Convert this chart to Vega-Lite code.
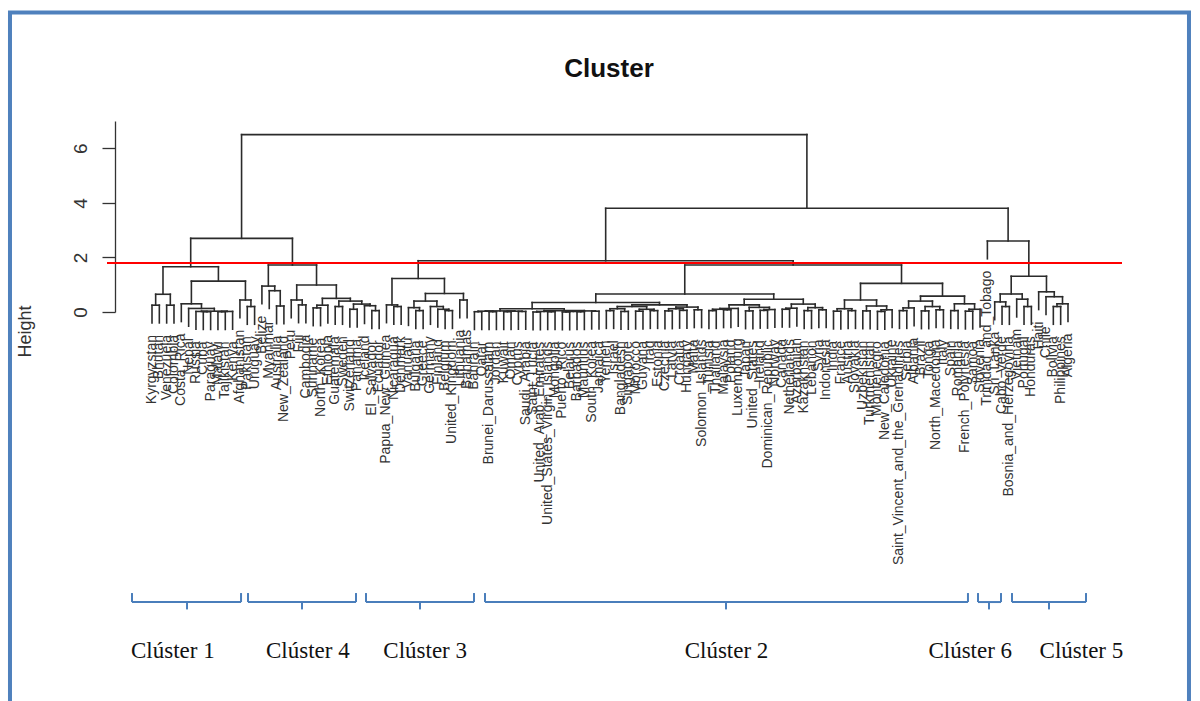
{
  "$schema": "https://vega.github.io/schema/vega-lite/v6.json",
  "width": 1015,
  "height": 191,
  "autosize": {"type": "none"},
  "padding": {"left": 107, "top": 121, "right": 78, "bottom": 389},
  "background": "white",
  "config": {"view": {"stroke": null}, "font": "Liberation Sans"},
  "datasets": {
    "frame": [{"x1": -18.38, "x2": 142.51, "y1": 10.98, "y2": -14.95}],
    "heading": [{"t": "Cluster", "x": 63.36, "y": 8.61}],
    "groups": [
      {"name": "Clúster 1", "l": -1.73, "r": 13.15, "c": 5.78, "lx": 3.84},
      {"name": "Clúster 4", "l": 14.1, "r": 28.84, "c": 21.47, "lx": 22.26},
      {"name": "Clúster 3", "l": 30.2, "r": 44.94, "c": 37.57, "lx": 38.28},
      {"name": "Clúster 2", "l": 46.44, "r": 112.35, "c": 79.33, "lx": 79.4},
      {"name": "Clúster 6", "l": 113.72, "r": 116.86, "c": 115.22, "lx": 112.66},
      {"name": "Clúster 5", "l": 118.36, "r": 128.46, "c": 123.41, "lx": 127.83}
    ],
    "merges": [
      {"a": 1, "b": 2, "h": 0.25, "p": -0.4, "q": -0.4},
      {"a": 3, "b": 4, "h": 0.25, "p": -0.4, "q": -0.4},
      {"a": 1.5, "b": 3.5, "h": 0.65, "p": 0.25, "q": 0.25},
      {"a": 8, "b": 9, "h": 0.01, "p": -0.64, "q": -0.64},
      {"a": 7, "b": 8.5, "h": 0.02, "p": -0.63, "q": 0.01},
      {"a": 10, "b": 11, "h": 0.01, "p": -0.64, "q": -0.64},
      {"a": 10.5, "b": 12, "h": 0.02, "p": 0.01, "q": -0.63},
      {"a": 7.75, "b": 11.25, "h": 0.03, "p": 0.02, "q": 0.02},
      {"a": 6, "b": 9.5, "h": 0.13, "p": -0.52, "q": 0.03},
      {"a": 5, "b": 7.75, "h": 0.3, "p": -0.35, "q": 0.13},
      {"a": 14, "b": 15, "h": 0.2, "p": -0.45, "q": -0.45},
      {"a": 13, "b": 14.5, "h": 0.44, "p": -0.21, "q": 0.2},
      {"a": 6.375, "b": 13.75, "h": 1.13, "p": 0.3, "q": 0.44},
      {"a": 2.5, "b": 10.0625, "h": 1.66, "p": 0.65, "q": 1.13},
      {"a": 18, "b": 19, "h": 0.22, "p": -0.43, "q": -0.43},
      {"a": 17, "b": 18.5, "h": 0.78, "p": 0.13, "q": 0.22},
      {"a": 16, "b": 17.75, "h": 0.95, "p": 0.3, "q": 0.78},
      {"a": 21, "b": 22, "h": 0.26, "p": -0.39, "q": -0.39},
      {"a": 20, "b": 21.5, "h": 0.44, "p": -0.21, "q": 0.26},
      {"a": 23, "b": 24, "h": 0.15, "p": -0.5, "q": -0.5},
      {"a": 23.5, "b": 25, "h": 0.25, "p": 0.15, "q": -0.4},
      {"a": 26, "b": 27, "h": 0.2, "p": -0.45, "q": -0.45},
      {"a": 28, "b": 29, "h": 0.1, "p": -0.55, "q": -0.55},
      {"a": 31, "b": 32, "h": 0.05, "p": -0.6, "q": -0.6},
      {"a": 30, "b": 31.5, "h": 0.23, "p": -0.42, "q": 0.05},
      {"a": 28.5, "b": 30.75, "h": 0.29, "p": 0.1, "q": 0.23},
      {"a": 26.5, "b": 29.625, "h": 0.4, "p": 0.2, "q": 0.29},
      {"a": 24.25, "b": 28.0625, "h": 0.5, "p": 0.25, "q": 0.4},
      {"a": 20.75, "b": 26.15625, "h": 0.99, "p": 0.44, "q": 0.5},
      {"a": 16.875, "b": 23.453125, "h": 1.72, "p": 0.95, "q": 0.99},
      {"a": 6.28125, "b": 20.1640625, "h": 2.7, "p": 1.66, "q": 1.72},
      {"a": 34, "b": 35, "h": 0.2, "p": -0.45, "q": -0.45},
      {"a": 33, "b": 34.5, "h": 0.26, "p": -0.39, "q": 0.2},
      {"a": 37, "b": 38, "h": 0.05, "p": -0.6, "q": -0.6},
      {"a": 36, "b": 37.5, "h": 0.16, "p": -0.49, "q": 0.05},
      {"a": 41, "b": 42, "h": 0.05, "p": -0.6, "q": -0.6},
      {"a": 40, "b": 41.5, "h": 0.1, "p": -0.55, "q": 0.05},
      {"a": 39, "b": 40.75, "h": 0.2, "p": -0.45, "q": 0.1},
      {"a": 36.75, "b": 39.875, "h": 0.4, "p": 0.16, "q": 0.2},
      {"a": 43, "b": 44, "h": 0.44, "p": -0.21, "q": -0.21},
      {"a": 38.3125, "b": 43.5, "h": 0.68, "p": 0.4, "q": 0.44},
      {"a": 33.75, "b": 40.90625, "h": 1.23, "p": 0.26, "q": 0.68},
      {"a": 45, "b": 46, "h": 0.01, "p": -0.64, "q": -0.64},
      {"a": 47, "b": 48, "h": 0.01, "p": -0.64, "q": -0.64},
      {"a": 45.5, "b": 47.5, "h": 0.03, "p": 0.01, "q": 0.01},
      {"a": 49, "b": 50, "h": 0.01, "p": -0.64, "q": -0.64},
      {"a": 51, "b": 52, "h": 0.02, "p": -0.63, "q": -0.63},
      {"a": 49.5, "b": 51.5, "h": 0.03, "p": 0.01, "q": 0.02},
      {"a": 46.5, "b": 50.5, "h": 0.04, "p": 0.03, "q": 0.03},
      {"a": 53, "b": 54, "h": 0, "p": -0.65, "q": -0.65},
      {"a": 55, "b": 56, "h": 0.01, "p": -0.64, "q": -0.64},
      {"a": 53.5, "b": 55.5, "h": 0.02, "p": 0, "q": 0.01},
      {"a": 57, "b": 58, "h": 0, "p": -0.65, "q": -0.65},
      {"a": 59, "b": 60, "h": 0.01, "p": -0.64, "q": -0.64},
      {"a": 57.5, "b": 59.5, "h": 0.02, "p": 0, "q": 0.01},
      {"a": 61, "b": 62, "h": 0.03, "p": -0.62, "q": -0.62},
      {"a": 58.5, "b": 61.5, "h": 0.04, "p": 0.02, "q": 0.03},
      {"a": 54.5, "b": 60, "h": 0.05, "p": 0.02, "q": 0.04},
      {"a": 48.5, "b": 57.25, "h": 0.12, "p": 0.04, "q": 0.05},
      {"a": 63, "b": 64, "h": 0.05, "p": -0.6, "q": -0.6},
      {"a": 65, "b": 66, "h": 0.02, "p": -0.63, "q": -0.63},
      {"a": 63.5, "b": 65.5, "h": 0.12, "p": 0.05, "q": 0.02},
      {"a": 67, "b": 68, "h": 0.03, "p": -0.62, "q": -0.62},
      {"a": 69, "b": 70, "h": 0.05, "p": -0.6, "q": -0.6},
      {"a": 67.5, "b": 69.5, "h": 0.1, "p": 0.03, "q": 0.05},
      {"a": 64.5, "b": 68.5, "h": 0.2, "p": 0.12, "q": 0.1},
      {"a": 71, "b": 72, "h": 0.04, "p": -0.61, "q": -0.61},
      {"a": 73, "b": 74, "h": 0.06, "p": -0.59, "q": -0.59},
      {"a": 71.5, "b": 73.5, "h": 0.12, "p": 0.04, "q": 0.06},
      {"a": 75, "b": 76, "h": 0.08, "p": -0.57, "q": -0.57},
      {"a": 72.5, "b": 75.5, "h": 0.18, "p": 0.12, "q": 0.08},
      {"a": 66.5, "b": 74, "h": 0.26, "p": 0.2, "q": 0.18},
      {"a": 52.875, "b": 70.25, "h": 0.35, "p": 0.12, "q": 0.26},
      {"a": 77, "b": 78, "h": 0.05, "p": -0.6, "q": -0.6},
      {"a": 79, "b": 80, "h": 0.08, "p": -0.57, "q": -0.57},
      {"a": 77.5, "b": 79.5, "h": 0.1, "p": 0.05, "q": 0.08},
      {"a": 78.5, "b": 81, "h": 0.13, "p": 0.1, "q": -0.52},
      {"a": 82, "b": 83, "h": 0.04, "p": -0.61, "q": -0.61},
      {"a": 84, "b": 85, "h": 0.06, "p": -0.59, "q": -0.59},
      {"a": 84.5, "b": 86, "h": 0.09, "p": 0.06, "q": -0.56},
      {"a": 82.5, "b": 85.25, "h": 0.17, "p": 0.04, "q": 0.09},
      {"a": 79.75, "b": 83.875, "h": 0.26, "p": 0.13, "q": 0.17},
      {"a": 87, "b": 88, "h": 0.1, "p": -0.55, "q": -0.55},
      {"a": 87.5, "b": 89, "h": 0.14, "p": 0.1, "q": -0.51},
      {"a": 90, "b": 91, "h": 0.05, "p": -0.6, "q": -0.6},
      {"a": 92, "b": 93, "h": 0.08, "p": -0.57, "q": -0.57},
      {"a": 90.5, "b": 92.5, "h": 0.16, "p": 0.05, "q": 0.08},
      {"a": 88.25, "b": 91.5, "h": 0.29, "p": 0.14, "q": 0.16},
      {"a": 81.8125, "b": 89.875, "h": 0.47, "p": 0.26, "q": 0.29},
      {"a": 61.5625, "b": 85.84375, "h": 0.66, "p": 0.35, "q": 0.47},
      {"a": 94, "b": 95, "h": 0.03, "p": -0.62, "q": -0.62},
      {"a": 96, "b": 97, "h": 0.05, "p": -0.6, "q": -0.6},
      {"a": 94.5, "b": 96.5, "h": 0.12, "p": 0.03, "q": 0.05},
      {"a": 98, "b": 99, "h": 0.04, "p": -0.61, "q": -0.61},
      {"a": 100, "b": 101, "h": 0.02, "p": -0.63, "q": -0.63},
      {"a": 100.5, "b": 102, "h": 0.08, "p": 0.02, "q": -0.57},
      {"a": 98.5, "b": 101.25, "h": 0.22, "p": 0.04, "q": 0.08},
      {"a": 95.5, "b": 99.875, "h": 0.44, "p": 0.12, "q": 0.22},
      {"a": 103, "b": 104, "h": 0.05, "p": -0.6, "q": -0.6},
      {"a": 103.5, "b": 105, "h": 0.15, "p": 0.05, "q": -0.5},
      {"a": 106, "b": 107, "h": 0.04, "p": -0.61, "q": -0.61},
      {"a": 108, "b": 109, "h": 0.08, "p": -0.57, "q": -0.57},
      {"a": 106.5, "b": 108.5, "h": 0.2, "p": 0.04, "q": 0.08},
      {"a": 104.25, "b": 107.5, "h": 0.4, "p": 0.15, "q": 0.2},
      {"a": 110, "b": 111, "h": 0.05, "p": -0.6, "q": -0.6},
      {"a": 112, "b": 113, "h": 0.03, "p": -0.62, "q": -0.62},
      {"a": 112.5, "b": 114, "h": 0.1, "p": 0.03, "q": -0.55},
      {"a": 110.5, "b": 113.25, "h": 0.3, "p": 0.05, "q": 0.1},
      {"a": 105.875, "b": 111.875, "h": 0.58, "p": 0.4, "q": 0.3},
      {"a": 97.6875, "b": 108.875, "h": 1.05, "p": 0.44, "q": 0.58},
      {"a": 73.703125, "b": 103.28125, "h": 1.72, "p": 0.66, "q": 1.05},
      {"a": 37.328125, "b": 88.4921875, "h": 1.88, "p": 1.23, "q": 1.72},
      {"a": 117, "b": 118, "h": 0.2, "p": -0.45, "q": -0.45},
      {"a": 116, "b": 117.5, "h": 0.37, "p": -0.28, "q": 0.2},
      {"a": 120, "b": 121, "h": 0.2, "p": -0.45, "q": -0.45},
      {"a": 119, "b": 120.5, "h": 0.47, "p": -0.18, "q": 0.2},
      {"a": 116.75, "b": 119.75, "h": 0.66, "p": 0.37, "q": 0.47},
      {"a": 124, "b": 125, "h": 0.2, "p": -0.45, "q": -0.45},
      {"a": 124.5, "b": 126, "h": 0.3, "p": 0.2, "q": -0.35},
      {"a": 123, "b": 125.25, "h": 0.56, "p": -0.09, "q": 0.3},
      {"a": 122, "b": 124.125, "h": 0.74, "p": 0.09, "q": 0.56},
      {"a": 118.25, "b": 123.0625, "h": 1.31, "p": 0.66, "q": 0.74},
      {"a": 115, "b": 120.65625, "h": 2.6, "p": 1.95, "q": 1.31},
      {"a": 62.91015625, "b": 117.828125, "h": 3.8, "p": 1.88, "q": 2.6},
      {"a": 13.22265625, "b": 90.369140625, "h": 6.5, "p": 2.7, "q": 3.8}
    ],
    "leaves": [
      {"n": "Kyrgyzstan", "i": 1, "b": -0.4},
      {"n": "Bhutan", "i": 2, "b": -0.4},
      {"n": "Venezuela", "i": 3, "b": -0.4},
      {"n": "Colombia", "i": 4, "b": -0.4},
      {"n": "Costa_Rica", "i": 5, "b": -0.35},
      {"n": "Nepal", "i": 6, "b": -0.52},
      {"n": "Russia", "i": 7, "b": -0.63},
      {"n": "Cuba", "i": 8, "b": -0.64},
      {"n": "Paraguay", "i": 9, "b": -0.64},
      {"n": "Malawi", "i": 10, "b": -0.64},
      {"n": "Tajikistan", "i": 11, "b": -0.64},
      {"n": "Kenya", "i": 12, "b": -0.63},
      {"n": "Afghanistan", "i": 13, "b": -0.21},
      {"n": "Pakistan", "i": 14, "b": -0.45},
      {"n": "Uruguay", "i": 15, "b": -0.45},
      {"n": "Belize", "i": 16, "b": 0.3},
      {"n": "Myanmar", "i": 17, "b": 0.13},
      {"n": "Australia", "i": 18, "b": -0.43},
      {"n": "New_Zealand", "i": 19, "b": -0.43},
      {"n": "Peru", "i": 20, "b": -0.21},
      {"n": "Fiji", "i": 21, "b": -0.39},
      {"n": "Cambodia", "i": 22, "b": -0.39},
      {"n": "Suriname", "i": 23, "b": -0.5},
      {"n": "North_Korea", "i": 24, "b": -0.5},
      {"n": "Ethiopia", "i": 25, "b": -0.4},
      {"n": "Guatemala", "i": 26, "b": -0.45},
      {"n": "Sweden", "i": 27, "b": -0.45},
      {"n": "Switzerland", "i": 28, "b": -0.55},
      {"n": "Panama", "i": 29, "b": -0.55},
      {"n": "Iceland", "i": 30, "b": -0.42},
      {"n": "El_Salvador", "i": 31, "b": -0.6},
      {"n": "Ecuador", "i": 32, "b": -0.6},
      {"n": "Papua_New_Guinea", "i": 33, "b": -0.39},
      {"n": "Nicaragua", "i": 34, "b": -0.45},
      {"n": "Denmark", "i": 35, "b": -0.45},
      {"n": "Vanuatu", "i": 36, "b": -0.49},
      {"n": "Bulgaria", "i": 37, "b": -0.6},
      {"n": "Greece", "i": 38, "b": -0.6},
      {"n": "Germany", "i": 39, "b": -0.45},
      {"n": "Finland", "i": 40, "b": -0.55},
      {"n": "Belgium", "i": 41, "b": -0.6},
      {"n": "United_Kingdom", "i": 42, "b": -0.6},
      {"n": "Lithuania", "i": 43, "b": -0.21},
      {"n": "Bahamas", "i": 44, "b": -0.21},
      {"n": "Bahrain", "i": 45, "b": -0.64},
      {"n": "Qatar", "i": 46, "b": -0.64},
      {"n": "Brunei_Darussalam", "i": 47, "b": -0.64},
      {"n": "Jordan", "i": 48, "b": -0.64},
      {"n": "Kuwait", "i": 49, "b": -0.64},
      {"n": "Oman", "i": 50, "b": -0.64},
      {"n": "Cyprus", "i": 51, "b": -0.63},
      {"n": "Saudi_Arabia", "i": 52, "b": -0.63},
      {"n": "Saint_Lucia", "i": 53, "b": -0.65},
      {"n": "United_Arab_Emirates", "i": 54, "b": -0.65},
      {"n": "United_States_Virgin_Islands", "i": 55, "b": -0.64},
      {"n": "Mongolia", "i": 56, "b": -0.64},
      {"n": "Puerto_Rico", "i": 57, "b": -0.65},
      {"n": "Belarus", "i": 58, "b": -0.65},
      {"n": "Barbados", "i": 59, "b": -0.64},
      {"n": "Mauritius", "i": 60, "b": -0.64},
      {"n": "South_Korea", "i": 61, "b": -0.62},
      {"n": "Jamaica", "i": 62, "b": -0.62},
      {"n": "Yemen", "i": 63, "b": -0.6},
      {"n": "Israel", "i": 64, "b": -0.6},
      {"n": "Bangladesh", "i": 65, "b": -0.63},
      {"n": "Singapore", "i": 66, "b": -0.63},
      {"n": "Morocco", "i": 67, "b": -0.62},
      {"n": "Guyana", "i": 68, "b": -0.62},
      {"n": "Iraq", "i": 69, "b": -0.6},
      {"n": "Estonia", "i": 70, "b": -0.6},
      {"n": "Czechia", "i": 71, "b": -0.61},
      {"n": "Latvia", "i": 72, "b": -0.61},
      {"n": "Croatia", "i": 73, "b": -0.59},
      {"n": "Hungary", "i": 74, "b": -0.59},
      {"n": "Malta", "i": 75, "b": -0.57},
      {"n": "Solomon_Islands", "i": 76, "b": -0.57},
      {"n": "Tunisia", "i": 77, "b": -0.6},
      {"n": "Thailand", "i": 78, "b": -0.6},
      {"n": "Malaysia", "i": 79, "b": -0.57},
      {"n": "Poland", "i": 80, "b": -0.57},
      {"n": "Luxembourg", "i": 81, "b": -0.52},
      {"n": "Japan", "i": 82, "b": -0.61},
      {"n": "United_States", "i": 83, "b": -0.61},
      {"n": "Ireland", "i": 84, "b": -0.59},
      {"n": "Dominican_Republic", "i": 85, "b": -0.59},
      {"n": "Norway", "i": 86, "b": -0.56},
      {"n": "Canada", "i": 87, "b": -0.55},
      {"n": "Netherlands", "i": 88, "b": -0.55},
      {"n": "Azerbaijan", "i": 89, "b": -0.51},
      {"n": "Kazakhstan", "i": 90, "b": -0.6},
      {"n": "Lebanon", "i": 91, "b": -0.6},
      {"n": "Syria", "i": 92, "b": -0.57},
      {"n": "Indonesia", "i": 93, "b": -0.57},
      {"n": "India", "i": 94, "b": -0.62},
      {"n": "France", "i": 95, "b": -0.62},
      {"n": "Austria", "i": 96, "b": -0.6},
      {"n": "Slovakia", "i": 97, "b": -0.6},
      {"n": "Uzbekistan", "i": 98, "b": -0.61},
      {"n": "Turkmenistan", "i": 99, "b": -0.61},
      {"n": "Montenegro", "i": 100, "b": -0.63},
      {"n": "New_Caledonia", "i": 101, "b": -0.63},
      {"n": "Ukraine", "i": 102, "b": -0.57},
      {"n": "Saint_Vincent_and_the_Grenadines", "i": 103, "b": -0.6},
      {"n": "Serbia", "i": 104, "b": -0.6},
      {"n": "Albania", "i": 105, "b": -0.5},
      {"n": "Brazil", "i": 106, "b": -0.61},
      {"n": "Tonga", "i": 107, "b": -0.61},
      {"n": "North_Macedonia", "i": 108, "b": -0.57},
      {"n": "Italy", "i": 109, "b": -0.57},
      {"n": "Spain", "i": 110, "b": -0.6},
      {"n": "Romania", "i": 111, "b": -0.6},
      {"n": "French_Polynesia", "i": 112, "b": -0.62},
      {"n": "Samoa", "i": 113, "b": -0.62},
      {"n": "Slovenia", "i": 114, "b": -0.55},
      {"n": "Trinidad_and_Tobago", "i": 115, "b": 1.95},
      {"n": "Sri_Lanka", "i": 116, "b": -0.28},
      {"n": "Cabo_Verde", "i": 117, "b": -0.45},
      {"n": "Bosnia_and_Herzegovina", "i": 118, "b": -0.45},
      {"n": "Vietnam", "i": 119, "b": -0.18},
      {"n": "Portugal", "i": 120, "b": -0.45},
      {"n": "Honduras", "i": 121, "b": -0.45},
      {"n": "Haiti", "i": 122, "b": 0.09},
      {"n": "Chile", "i": 123, "b": -0.09},
      {"n": "Bolivia", "i": 124, "b": -0.45},
      {"n": "Philippines", "i": 125, "b": -0.45},
      {"n": "Algeria", "i": 126, "b": -0.35}
    ]
  },
  "layer": [
    {
      "data": {"name": "merges"},
      "mark": {"type": "rule", "color": "#2b2b2b", "strokeWidth": 1.6, "strokeCap": "square"},
      "encoding": {
        "x": {"field": "a", "type": "quantitative", "scale": {"domain": [-5.141, 133.37], "nice": false, "zero": false}, "axis": null},
        "x2": {"field": "b"},
        "y": {
          "field": "h", "type": "quantitative", "title": "Height",
          "scale": {"domain": [0, 7], "nice": false, "zero": false},
          "axis": {
            "values": [0, 1, 2, 3, 4, 5, 6, 7],
            "labelExpr": "datum.value % 2 === 0 ? datum.label : ''",
            "grid": false, "offset": -8, "tickSize": 13, "tickWidth": 1.3, "tickColor": "#333333",
            "domainColor": "#333333", "domainWidth": 1.3,
            "labelAngle": 270, "labelAlign": "center", "labelBaseline": "bottom", "labelPadding": 12,
            "labelFontSize": 19, "labelFont": "Liberation Sans", "labelColor": "#333333", "labelOverlap": false, "labelFlush": false,
            "title": "Height", "titleFontSize": 18, "titleFont": "Liberation Sans", "titleFontWeight": "normal", "titleColor": "#333333",
            "titleAngle": 270, "titleX": -90, "titleY": 210, "titleAlign": "center", "titleBaseline": "middle"
          }
        }
      }
    },
    {
      "data": {"name": "frame"},
      "mark": {"type": "rect", "fill": "white", "fillOpacity": 0, "stroke": "#4F81BD", "strokeWidth": 4},
      "encoding": {
        "x": {"field": "x1", "type": "quantitative", "axis": null},
        "x2": {"field": "x2"},
        "y": {"field": "y1", "type": "quantitative", "title": "Height"},
        "y2": {"field": "y2"}
      }
    },
    {
      "data": {"name": "heading"},
      "mark": {"type": "text", "align": "center", "baseline": "alphabetic", "fontSize": 26, "fontWeight": "bold", "font": "Liberation Sans", "color": "#111111"},
      "encoding": {
        "x": {"field": "x", "type": "quantitative", "axis": null},
        "y": {"field": "y", "type": "quantitative", "title": "Height"},
        "text": {"field": "t"}
      }
    },
    {
      "data": {"name": "merges"},
      "mark": {"type": "rule", "color": "#2b2b2b", "strokeWidth": 1.6, "strokeCap": "square"},
      "encoding": {
        "x": {"field": "a", "type": "quantitative", "axis": null},
        "y": {"field": "p", "type": "quantitative", "title": "Height"},
        "y2": {"field": "h"}
      }
    },
    {
      "data": {"name": "merges"},
      "mark": {"type": "rule", "color": "#2b2b2b", "strokeWidth": 1.6, "strokeCap": "square"},
      "encoding": {
        "x": {"field": "b", "type": "quantitative", "axis": null},
        "y": {"field": "q", "type": "quantitative", "title": "Height"},
        "y2": {"field": "h"}
      }
    },
    {
      "data": {"values": [{}]},
      "mark": {"type": "rule", "color": "#ff0000", "strokeWidth": 2},
      "encoding": {"y": {"datum": 1.8, "type": "quantitative", "title": "Height"}}
    },
    {
      "data": {"name": "leaves"},
      "mark": {"type": "text", "angle": 270, "align": "right", "baseline": "middle", "dx": -12, "fontSize": 14, "font": "Liberation Sans", "color": "#333333"},
      "encoding": {
        "x": {"field": "i", "type": "quantitative", "axis": null},
        "y": {"field": "b", "type": "quantitative", "title": "Height"},
        "text": {"field": "n"}
      }
    },
    {
      "data": {"name": "groups"},
      "mark": {"type": "rule", "color": "#4A7EBB", "strokeWidth": 2},
      "encoding": {
        "x": {"field": "l", "type": "quantitative", "axis": null},
        "x2": {"field": "r"},
        "y": {"datum": -10.63, "type": "quantitative", "title": "Height"}
      }
    },
    {
      "data": {"name": "groups"},
      "mark": {"type": "rule", "color": "#4A7EBB", "strokeWidth": 2},
      "encoding": {
        "x": {"field": "l", "type": "quantitative", "axis": null},
        "y": {"datum": -10.3, "type": "quantitative", "title": "Height"},
        "y2": {"datum": -10.63}
      }
    },
    {
      "data": {"name": "groups"},
      "mark": {"type": "rule", "color": "#4A7EBB", "strokeWidth": 2},
      "encoding": {
        "x": {"field": "r", "type": "quantitative", "axis": null},
        "y": {"datum": -10.3, "type": "quantitative", "title": "Height"},
        "y2": {"datum": -10.63}
      }
    },
    {
      "data": {"name": "groups"},
      "mark": {"type": "rule", "color": "#4A7EBB", "strokeWidth": 2},
      "encoding": {
        "x": {"field": "c", "type": "quantitative", "axis": null},
        "y": {"datum": -10.63, "type": "quantitative", "title": "Height"},
        "y2": {"datum": -10.9}
      }
    },
    {
      "data": {"name": "groups"},
      "mark": {"type": "text", "align": "center", "baseline": "alphabetic", "fontSize": 23, "font": "Liberation Serif", "color": "#111111"},
      "encoding": {
        "x": {"field": "lx", "type": "quantitative", "axis": null},
        "y": {"datum": -12.68, "type": "quantitative", "title": "Height"},
        "text": {"field": "name"}
      }
    }
  ]
}
